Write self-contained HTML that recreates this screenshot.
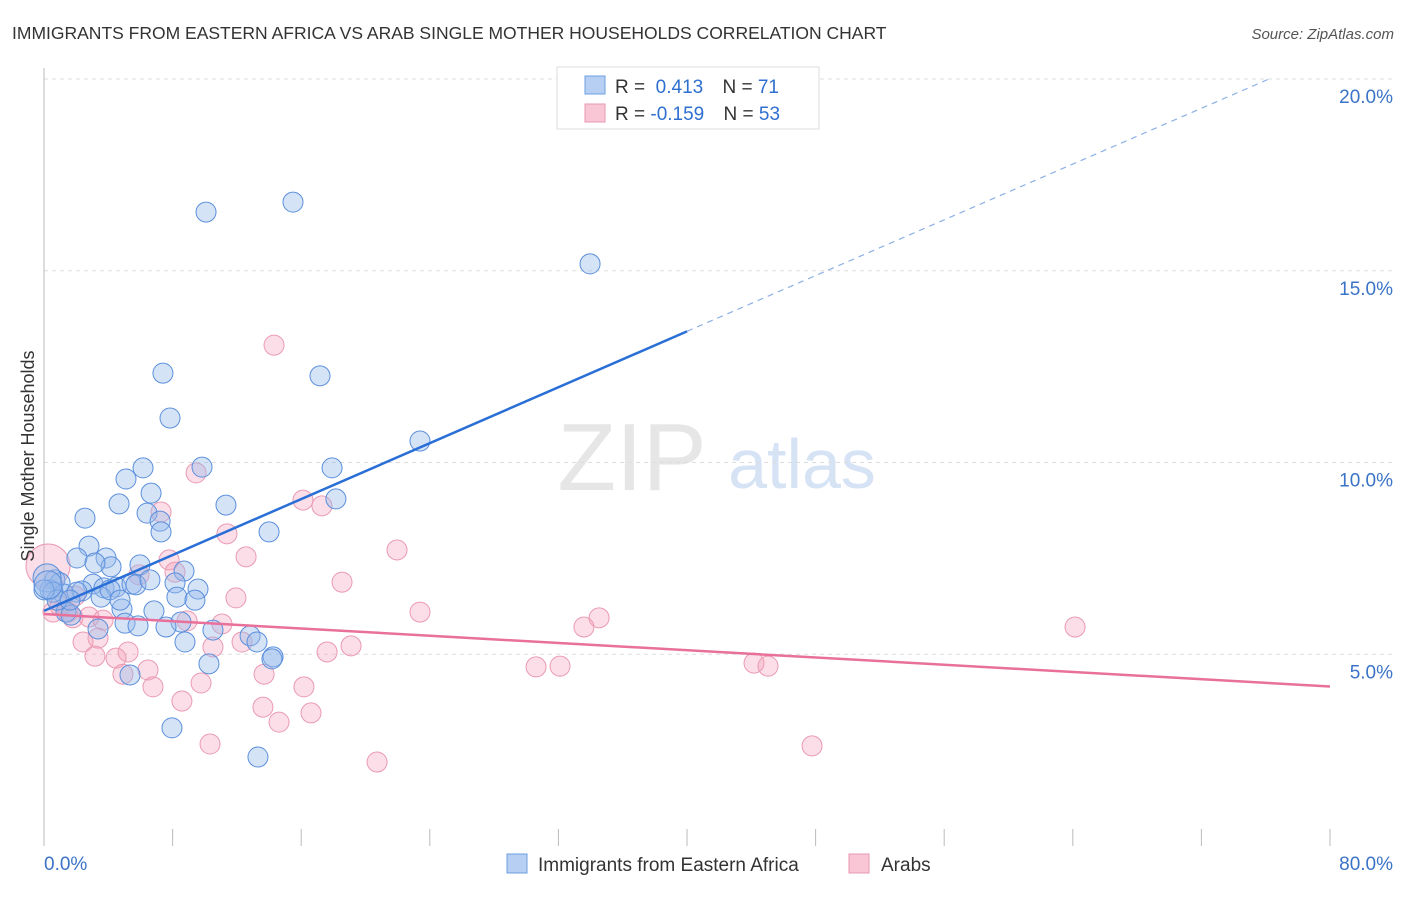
<!DOCTYPE html>
<html><head><meta charset="utf-8"><style>
body{margin:0;background:#fff;font-family:"Liberation Sans",sans-serif}
svg text{font-family:"Liberation Sans",sans-serif}
</style></head><body>
<svg id="chart" width="1406" height="892" xmlns="http://www.w3.org/2000/svg">
<text x="12" y="39" font-size="17.5" fill="#333">IMMIGRANTS FROM EASTERN AFRICA VS ARAB SINGLE MOTHER HOUSEHOLDS CORRELATION CHART</text>
<text x="1394" y="39" font-size="15" fill="#555" font-style="italic" text-anchor="end">Source: ZipAtlas.com</text>
<g>
<text x="632" y="490" font-size="96" fill="#e6e6e6" font-family="Liberation Serif" text-anchor="middle">ZIP</text>
<text x="802" y="488" font-size="70" fill="#d6e3f5" text-anchor="middle">atlas</text>
</g>
<g id="grid"></g>
<g id="axes"></g>
<g id="pts"></g>
<g id="lines"></g>
<text transform="translate(34,456) rotate(-90)" font-size="18" fill="#333" text-anchor="middle">Single Mother Households</text>
<g>
<rect x="557" y="67" width="262" height="62" fill="#fff" stroke="#ddd"/>
<rect x="585" y="76" width="20" height="18" fill="#b6cff3" stroke="#6c9ee0"/>
<rect x="585" y="104" width="20" height="18" fill="#f8c6d4" stroke="#e99ab2"/>
<text x="615" y="93" font-size="19" fill="#333">R = <tspan fill="#2f6fd0">&#160;0.413</tspan>   <tspan dx="14">N = </tspan><tspan fill="#2f6fd0"> 71</tspan></text>
<text x="615" y="120" font-size="19" fill="#333">R = <tspan fill="#2f6fd0">-0.159</tspan>   <tspan dx="14">N = </tspan><tspan fill="#2f6fd0">53</tspan></text>
</g>
<g>
<rect x="507" y="854" width="20" height="19" fill="#b6cff3" stroke="#6c9ee0"/>
<text x="538" y="871" font-size="19" fill="#333">Immigrants from Eastern Africa</text>
<rect x="849" y="854" width="20" height="19" fill="#f8c6d4" stroke="#e99ab2"/>
<text x="881" y="871" font-size="19" fill="#333">Arabs</text>
</g>
</svg>
<script>
const blueX=[10.08,15.49,33.97,7.40,17.17,7.84,23.39,6.16,9.83,17.92,5.10,6.66,4.67,11.32,18.16,2.55,6.41,7.22,7.28,14.00,2.80,2.05,3.86,5.97,4.17,3.17,8.71,0.68,1.00,3.05,3.73,4.48,5.47,8.15,5.72,9.58,0.37,1.24,2.36,2.05,3.55,8.27,4.85,6.84,1.37,1.68,8.52,5.04,5.85,7.59,3.36,10.51,12.82,8.77,13.25,14.25,14.18,10.26,5.35,7.96,13.31,0.19,0.56,0.81,0,0.25,4.11,4.73,6.59,9.39,1.62];
const blueY=[16.53,16.79,15.18,12.33,12.26,11.16,10.56,9.86,9.88,9.86,9.57,9.20,8.92,8.89,9.05,8.55,8.68,8.47,8.19,8.19,7.82,7.51,7.51,7.33,7.28,7.38,7.17,6.94,6.86,6.83,6.73,6.75,6.83,6.86,6.81,6.70,6.68,6.57,6.65,6.62,6.49,6.49,6.18,6.13,6.10,6.02,5.84,5.81,5.74,5.71,5.66,5.63,5.48,5.32,5.32,4.93,4.88,4.75,4.46,3.08,2.32,6.99,6.62,6.41,6.68,6.81,6.68,6.41,6.94,6.41,6.41];
const pinkX=[14.31,9.46,7.28,16.11,17.29,11.38,21.96,12.57,7.78,5.91,8.15,18.54,11.94,23.39,34.53,33.59,64.14,0.25,1.93,1.49,1.80,0.56,2.80,3.67,8.90,11.07,3.36,2.43,12.32,10.51,5.23,19.10,17.61,4.48,3.17,30.61,32.10,44.17,45.04,6.47,4.91,13.69,9.77,6.78,16.17,8.58,13.62,16.61,14.62,10.33,47.78,20.72,1.00];
const pinkY=[13.06,9.73,8.71,9.02,8.87,8.14,7.72,7.54,7.46,7.07,7.14,6.88,6.47,6.10,5.95,5.71,5.71,7.30,6.52,6.10,5.95,6.10,5.97,5.89,5.87,5.79,5.42,5.32,5.32,5.19,5.06,5.22,5.06,4.90,4.95,4.67,4.69,4.77,4.69,4.59,4.48,4.48,4.25,4.15,4.15,3.78,3.62,3.47,3.23,2.66,2.61,2.19,6.26];
const blueTrend=[0,6.13,40,13.42,76.2,20.0];
const pinkTrend=[0,6.05,80,4.16];
const yTicks=[5,10,15,20];
const yTickLabels=["5.0%","10.0%","15.0%","20.0%"];
const xTickCount=10;
const xLabels=["0.0%","80.0%"];
const NS="http://www.w3.org/2000/svg";
const X=v=>44+v*(1330-44)/80;
const Y=v=>846-v*(846-79)/20;
function mk(tag,attrs,parent){const e=document.createElementNS(NS,tag);for(const k in attrs)e.setAttribute(k,attrs[k]);parent.appendChild(e);return e;}
const grid=document.getElementById('grid'),axes=document.getElementById('axes'),pts=document.getElementById('pts'),lines=document.getElementById('lines');
yTicks.forEach((t,i)=>{
 const l=mk('line',{x1:44,x2:1393,y1:Y(t),y2:Y(t),stroke:'#ddd','stroke-dasharray':'4,4'},grid);
 
 
 const tx=mk('text',{x:1393,y:Y(t)+24,'font-size':19,fill:'#3b73c8','text-anchor':'end'},axes);
 tx.textContent=yTickLabels[i];
 
 
});
const ya=mk('line',{x1:44,x2:44,y1:68,y2:846,stroke:'#bbb'},axes);


for(let i=0;i<=xTickCount;i++){
 const v=i*80/xTickCount;
 const t=mk('line',{x1:X(v),x2:X(v),y1:829,y2:846,stroke:'#bbb'},axes);
 
 
}
const xl0=mk('text',{x:44,y:870,'font-size':19,fill:'#3b73c8'},axes);xl0.textContent=xLabels[0];


const xl1=mk('text',{x:1393,y:870,'font-size':19,fill:'#3b73c8','text-anchor':'end'},axes);xl1.textContent=xLabels[1];


function dots(xs,ys,fill,stroke,name){
 xs.forEach((x,i)=>{
  const r=(x<0.3&&(ys[i]>7.2||ys[i]>6.75&&name=='blue-point'))?(name=='pink-point'?22:14):10;
  const c=mk('circle',{cx:X(x),cy:Y(ys[i]),r:r,fill:fill,stroke:stroke,'stroke-width':1},pts);
  
  
 });
}
dots(pinkX,pinkY,'rgba(244,160,185,0.35)','#ea9ab2','pink-point');
dots(blueX,blueY,'rgba(150,185,235,0.4)','#5b8fdc','blue-point');
const b1=mk('line',{x1:X(blueTrend[0]),y1:Y(blueTrend[1]),x2:X(blueTrend[2]),y2:Y(blueTrend[3]),stroke:'#2a6fd6','stroke-width':2.5},lines);


const b2=mk('line',{x1:X(blueTrend[2]),y1:Y(blueTrend[3]),x2:X(blueTrend[4]),y2:Y(blueTrend[5]),stroke:'#8db0e6','stroke-width':1.2,'stroke-dasharray':'6,5'},lines);


const p1=mk('line',{x1:X(pinkTrend[0]),y1:Y(pinkTrend[1]),x2:X(pinkTrend[2]),y2:Y(pinkTrend[3]),stroke:'#e8709a','stroke-width':2.5},lines);


</script>
</body></html>
